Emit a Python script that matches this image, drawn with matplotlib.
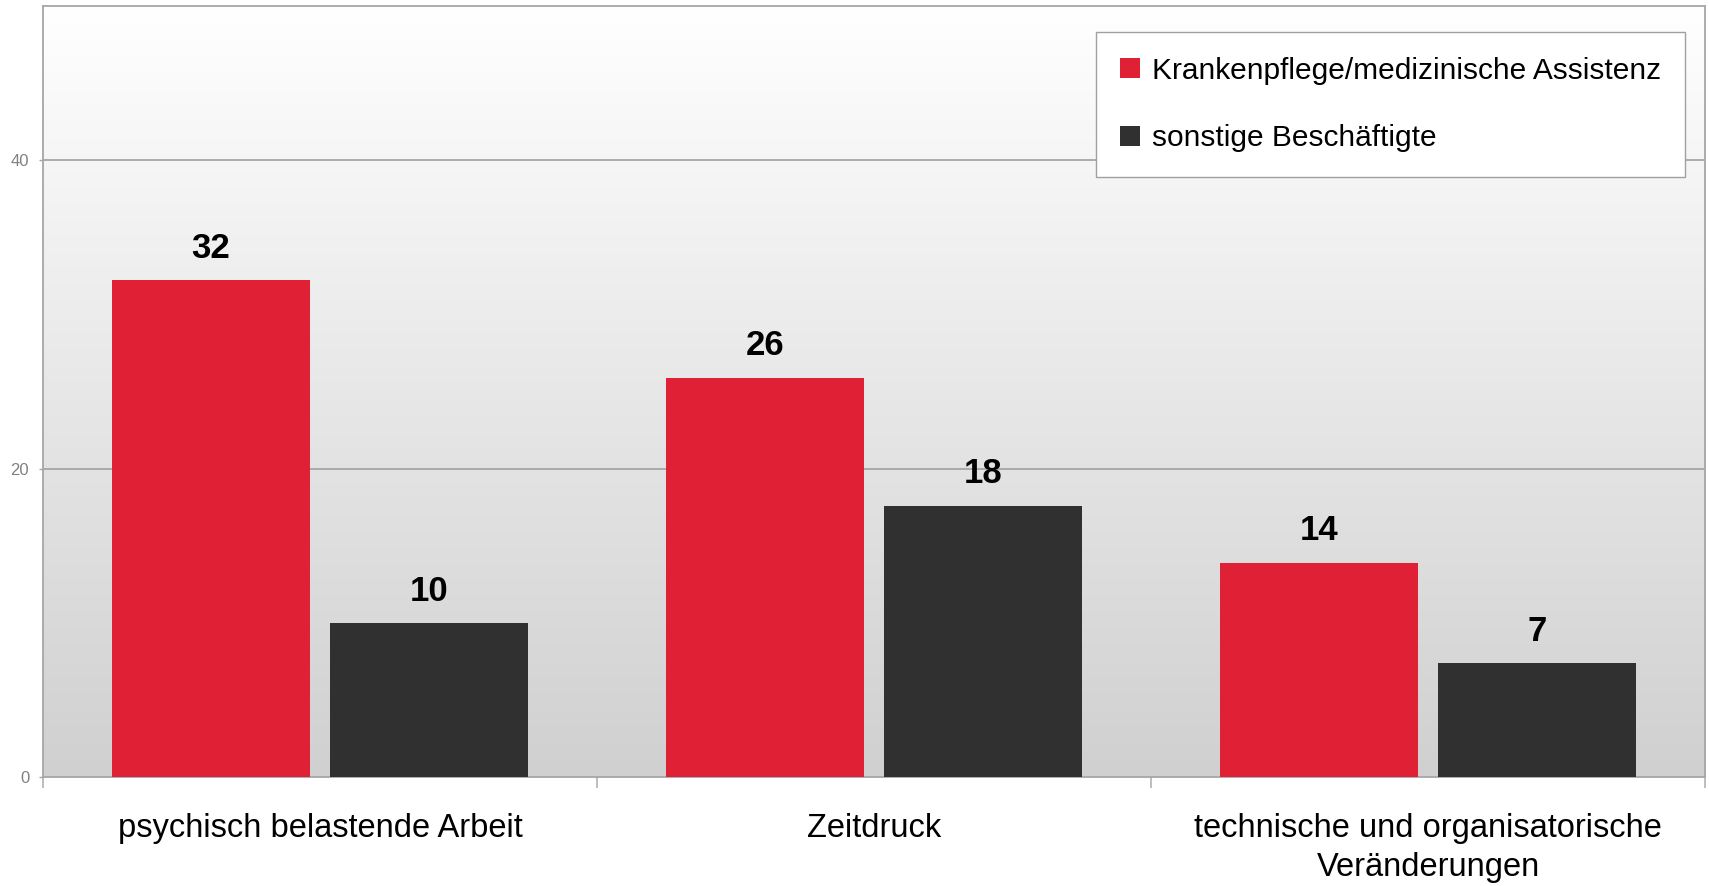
import numpy as np
import matplotlib
matplotlib.use("Agg")
import matplotlib.pyplot as plt
from matplotlib.colors import LinearSegmentedColormap
from matplotlib.patches import Patch

plt.rcParams['font.family'] = ['Liberation Sans', 'DejaVu Sans']

# Data
categories = ["psychisch belastende Arbeit", "Zeitdruck",
              "technische und organisatorische\nVeränderungen"]
series_names = ["Krankenpflege/medizinische Assistenz", "sonstige Beschäftigte"]
pflege = [32.2, 25.9, 13.9]
sonstige = [10.0, 17.6, 7.4]

red = "#DF2035"
dark = "#303030"
grid_gray = "#A6A6A6"

fig = plt.figure(figsize=(17.09, 8.86), dpi=100)
ax = fig.add_axes([0.0252, 0.1230, 0.9725, 0.8702])

# Gradient background
grad = np.linspace(0, 1, 256).reshape(-1, 1)
cmap = LinearSegmentedColormap.from_list("bg", ["#FFFFFF", "#D0D0D0"])
ax.imshow(grad, extent=[0, 3, 0, 50], aspect="auto", cmap=cmap,
          origin="upper", zorder=0)

x = np.arange(len(categories)) + 0.5
w = 0.357
off = 0.197

b1 = ax.bar(x - off, pflege, w, color=red, zorder=3)
b2 = ax.bar(x + off, sonstige, w, color=dark, zorder=3)

for bars, vals in ((b1, pflege), (b2, sonstige)):
    for rect, v in zip(bars, vals):
        ax.annotate(f"{round(v):d}", (rect.get_x() + rect.get_width() / 2, v),
                    xytext=(0, 16), textcoords="offset points",
                    ha="center", va="baseline", fontsize=25,
                    fontweight="bold", color="black", zorder=4)

ax.set_xlim(0, 3)
ax.set_ylim(0, 50)

# y axis
ax.set_yticks([0, 20, 40])
ax.tick_params(axis="y", length=3, width=1, color=grid_gray,
               labelcolor="#808080", labelsize=12, pad=7)
for yv in (20, 40):
    ax.axhline(yv, color=grid_gray, linewidth=1.3, zorder=1)

# x axis: separators as major ticks, labels on minor ticks
ax.set_xticks([0, 1, 2, 3])
ax.set_xticklabels([])
ax.tick_params(axis="x", which="major", length=8, width=1.3, color="#B8B8B8")
ax.set_xticks(x, minor=True)
ax.set_xticklabels(categories, minor=True, fontsize=23.5, linespacing=1.33)
ax.tick_params(axis="x", which="minor", length=0, pad=26)

for s in ax.spines.values():
    s.set_color(grid_gray)
    s.set_linewidth(1.3)

handles = [Patch(facecolor=red, edgecolor="none"),
           Patch(facecolor=dark, edgecolor="none")]
leg = ax.legend(handles, series_names, loc="upper right",
                bbox_to_anchor=(0.988, 0.966), borderaxespad=0, fontsize=21.5,
                frameon=True, fancybox=False, framealpha=1,
                edgecolor="#A0A0A0", handlelength=0.65, handleheight=0.65,
                handletextpad=0.4, labelspacing=1.32, borderpad=0.82)
leg.get_frame().set_linewidth(1.0)

fig.savefig("out.png", dpi=100, facecolor="white")
